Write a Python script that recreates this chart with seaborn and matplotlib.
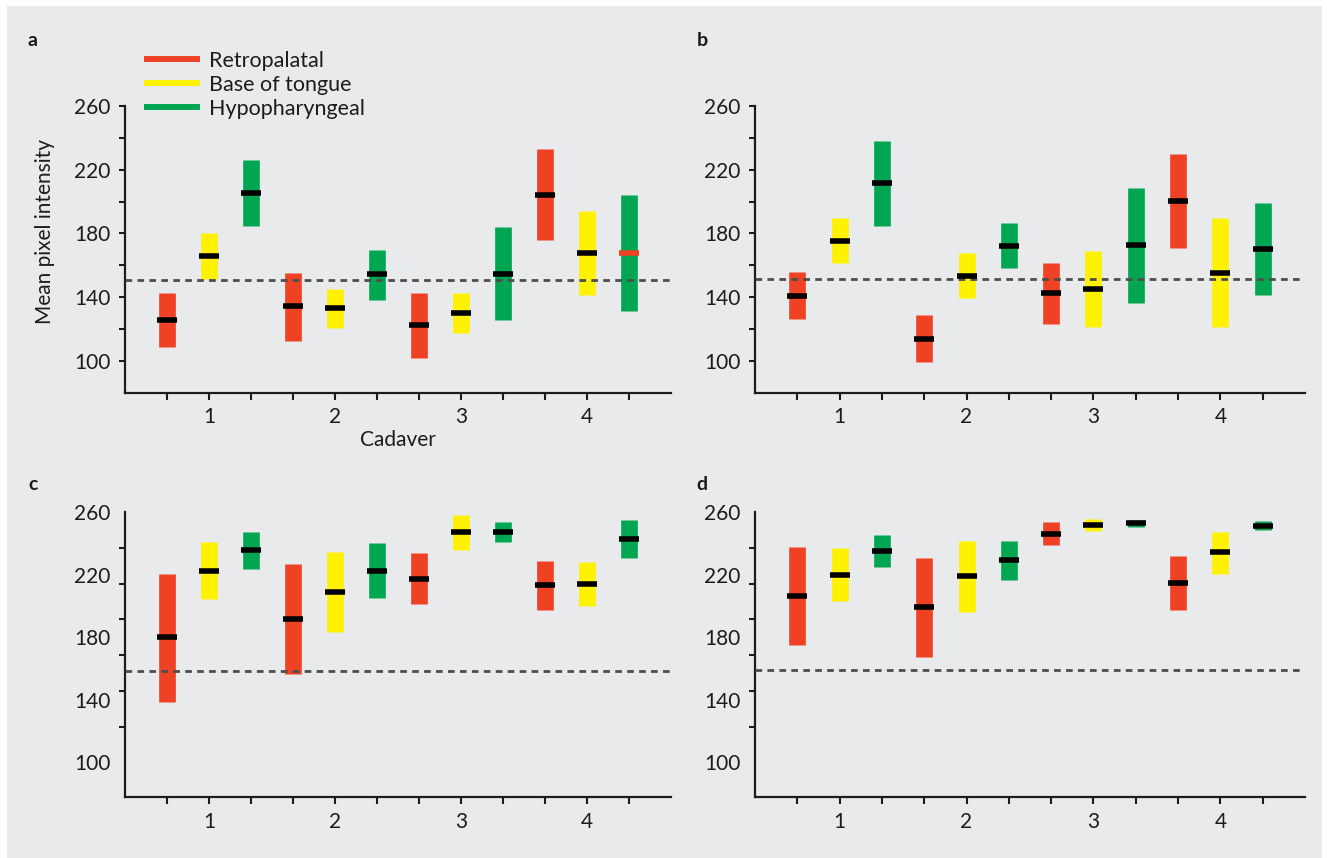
import numpy as np
import pandas as pd
import seaborn as sns
import matplotlib.pyplot as plt
from matplotlib.patches import Rectangle
from matplotlib.lines import Line2D

# ---- data ----
regions = ["Retropalatal", "Base of tongue", "Hypopharyngeal"]
cadavers = ["1", "2", "3", "4"]
panels = ["a", "b", "c", "d"]

# bars ordered: cadaver 1 (R, B, H), cadaver 2 (R, B, H), ...
a_low = [108.5, 151.3, 184.4, 112.7, 120.6, 138.5, 101.9, 117.7, 125.4, 175.6, 141.3, 131.5]
a_high = [142.3, 180.4, 225.8, 155.2, 145.4, 169.8, 142.9, 142.3, 184.0, 232.9, 194.2, 204.4]
a_med = [125.6, 165.6, 205.2, 134.2, 133.1, 154.4, 122.3, 130.2, 154.8, 204.0, 167.9, 167.7]

b_low = [126.5, 161.3, 184.8, 99.4, 139.2, 158.0, 123.3, 121.0, 136.3, 170.6, 121.5, 141.3]
b_high = [155.8, 189.8, 238.1, 128.5, 167.7, 186.5, 161.5, 169.0, 208.8, 229.6, 189.4, 198.8]
b_med = [141.0, 175.4, 211.5, 114.0, 153.3, 172.1, 142.3, 144.8, 172.7, 200.2, 155.4, 170.0]

c_low = [138.7, 204.4, 223.8, 156.6, 183.3, 204.8, 201.2, 235.9, 240.8, 197.3, 199.7, 230.4]
c_high = [220.6, 240.6, 247.2, 226.8, 234.4, 240.0, 233.6, 257.9, 253.4, 228.7, 228.2, 255.1]
c_med = [179.9, 222.5, 235.5, 191.8, 208.8, 222.3, 217.4, 247.0, 247.2, 213.1, 214.0, 242.7]

d_low = [175.0, 203.1, 224.8, 167.5, 196.1, 216.7, 238.9, 248.1, 250.4, 197.1, 220.6, 248.7]
d_high = [237.8, 236.8, 245.3, 230.8, 241.7, 241.7, 253.4, 255.5, 255.1, 231.9, 247.4, 254.0]
d_med = [206.3, 219.9, 235.3, 199.3, 218.9, 229.3, 246.1, 251.7, 252.8, 214.6, 234.2, 251.3]

# median bar colour (one odd red median in panel a)
a_medcol = ["k"] * 11 + ["r"]

thresholds = [151.0, 151.3, 158.3, 159.2]

lows = [a_low, b_low, c_low, d_low]
highs = [a_high, b_high, c_high, d_high]
meds = [a_med, b_med, c_med, d_med]
medcols = [a_medcol, ["k"] * 12, ["k"] * 12, ["k"] * 12]

red, yellow, green = "#ef4123", "#fff200", "#00a651"
region_colors = dict(zip(regions, [red, yellow, green]))
bg = "#e9eaec"
ink = "#1c1c1c"

# long table: low / median / high rows per bar
rows = []
for p, lo, hi, me, mc in zip(panels, lows, highs, meds, medcols):
    for i in range(len(lo)):
        reg = regions[i % 3]
        for v in (lo[i], me[i], hi[i]):
            rows.append(dict(panel=p, pos=i, region=reg, value=v, kind="range"))
        rows.append(dict(panel=p, pos=i, region=reg, value=me[i], kind="med", mcol=mc[i]))
df = pd.DataFrame(rows)

sns.set_style("ticks")
plt.rcParams["font.family"] = ["Lato", "DejaVu Sans"]
plt.rcParams["text.color"] = ink
plt.rcParams["axes.labelcolor"] = ink

W, H = 1327, 858
fig = plt.figure(figsize=(W / 100, H / 100), dpi=100, facecolor="white")
fig.patches.append(Rectangle((7 / W, 0), (1322 - 7) / W, (H - 6) / H,
                             transform=fig.transFigure, facecolor=bg,
                             edgecolor="none", zorder=-10))

# axes boxes in pixels: left, top, right, bottom
boxes = {
    "a": (125, 106, 671, 392.7),
    "b": (755, 106, 1305, 392.7),
    "c": (125, 512, 671, 797.3),
    "d": (755, 512, 1305, 797.3),
}
ylims = {"a": (80, 260), "b": (80, 260), "c": (77.6, 260), "d": (77.6, 260)}
letter_pos = {"a": (33, 40), "b": (702, 40), "c": (33, 485), "d": (702, 485)}

xlabels = []
for i in range(12):
    xlabels.append(cadavers[i // 3] if i % 3 == 1 else "")

for k, p in enumerate(panels):
    l, t, r, b = boxes[p]
    ax = fig.add_axes([l / W, 1 - b / H, (r - l) / W, (b - t) / H])
    ax.set_facecolor("none")
    sub = df[df.panel == p]
    rng = sub[sub.kind == "range"]
    med = sub[sub.kind == "med"]

    sns.pointplot(data=rng, x="pos", y="value", hue="region", hue_order=regions,
                  palette=region_colors, estimator="median", errorbar=("pi", 100),
                  native_scale=True, linestyle="none", marker="o", markersize=0,
                  err_kws={"linewidth": 12, "solid_capstyle": "butt"},
                  legend=False, ax=ax)

    ax.axhline(thresholds[k], color="#4d4d4d", lw=2, dashes=(2.4, 1.9), zorder=3)

    sns.pointplot(data=med, x="pos", y="value", hue="mcol",
                  palette={"k": "black", "r": red}, errorbar=None,
                  native_scale=True, linestyle="none", marker="_",
                  markersize=14.4, markeredgewidth=4, legend=False, ax=ax,
                  zorder=4)

    ax.set_xlim(-1, 12)
    ax.set_ylim(*ylims[p])
    ax.set_xticks(range(12))
    ax.set_xticklabels(xlabels)
    ax.set_xlabel("")
    ax.set_ylabel("")

    if p in ("a", "b"):
        ax.set_yticks([100, 140, 180, 220, 260])
        ax.set_yticks([120, 160, 200, 240], minor=True)
        ax.tick_params(axis="y", which="both", length=4.3, width=1.5, pad=6)
    else:
        ax.set_yticks([100, 140, 180, 220, 260])
        ax.set_yticks(np.linspace(100, 260, 8), minor=True)
        ax.tick_params(axis="y", which="major", length=0, pad=10.5)
        ax.tick_params(axis="y", which="minor", length=4.3, width=1.5)

    ax.tick_params(axis="x", which="major", length=5, width=1.5, pad=5.5)
    ax.tick_params(axis="both", which="both", colors=ink, labelsize=15,
                   direction="out")
    for s in ("top", "right"):
        ax.spines[s].set_visible(False)
    for s in ("left", "bottom"):
        ax.spines[s].set_linewidth(1.6)
        ax.spines[s].set_color(ink)

    lx, ly = letter_pos[p]
    fig.text(lx / W, 1 - ly / H, p, ha="center", va="center",
             fontsize=14, fontweight="bold")

    if p == "a":
        ax.set_xlabel("Cadaver", fontsize=15, labelpad=2)
        handles = [Line2D([], [], color=region_colors[g], lw=4.3,
                          solid_capstyle="butt") for g in regions]
        fig.legend(handles, regions, loc="upper left",
                   bbox_to_anchor=(144 / W, 1 - 51 / H), frameon=False,
                   fontsize=15.5, handlelength=2.6, handletextpad=0.42,
                   labelspacing=0.18, borderpad=0, borderaxespad=0)

fig.text(45 / W, 1 - 232 / H, "Mean pixel intensity", rotation=90,
         ha="center", va="center", fontsize=15)

fig.savefig("out.png", dpi=100, facecolor="white")
